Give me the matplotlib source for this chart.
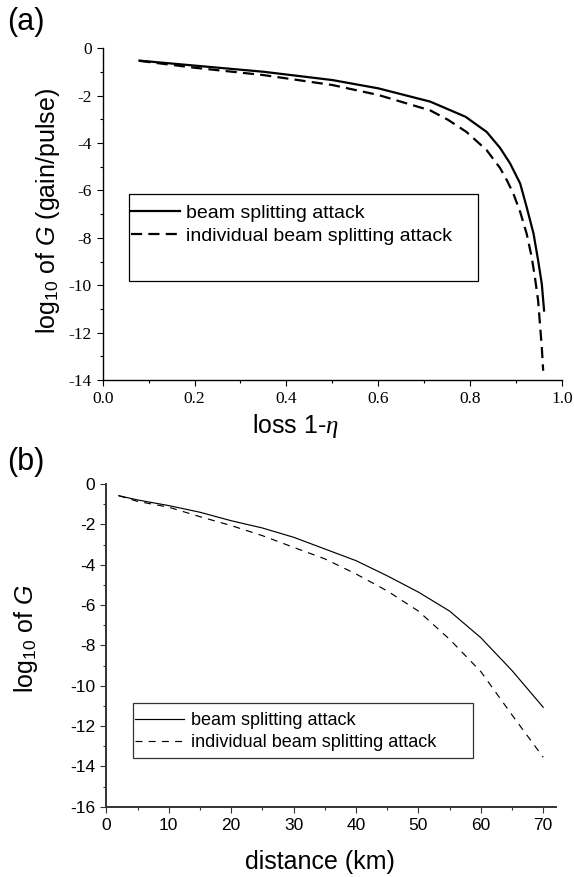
import matplotlib
matplotlib.use('Agg')
import matplotlib.pyplot as plt
from matplotlib.patches import Rectangle

plt.rcParams['font.family'] = ['Liberation Sans', 'DejaVu Sans']
plt.rcParams['mathtext.fontset'] = 'custom'
plt.rcParams['mathtext.rm'] = 'Liberation Sans'
plt.rcParams['mathtext.it'] = 'Liberation Serif:italic'
plt.rcParams['mathtext.sf'] = 'Liberation Sans:italic'
plt.rcParams['lines.scale_dashes'] = False
plt.rcParams['axes.unicode_minus'] = False

# panel (a): gain vs loss
loss_bs = [0.08, 0.2, 0.35, 0.5, 0.6, 0.713, 0.79, 0.836, 0.865, 0.887,
           0.909, 0.923, 0.938, 0.948, 0.956, 0.961]
logG_bs = [-0.52, -0.73, -0.99, -1.34, -1.69, -2.25, -2.89, -3.53, -4.20, -4.86,
           -5.71, -6.70, -7.82, -8.95, -9.94, -11.07]
loss_ibs = [0.08, 0.2, 0.35, 0.5, 0.6, 0.713, 0.752, 0.792, 0.836, 0.865, 0.880,
            0.894, 0.909, 0.923, 0.934, 0.941, 0.948, 0.952, 0.956, 0.959]
logG_ibs = [-0.53, -0.82, -1.13, -1.55, -1.97, -2.62, -3.02, -3.53, -4.30, -5.05, -5.57,
            -6.13, -6.91, -7.82, -8.81, -9.66, -10.65, -11.63, -12.62, -13.61]

# panel (b): gain vs distance
dist = [2, 5, 10, 15, 20, 25, 30, 35, 40, 45, 50, 55, 60, 65, 70]
dist_bs = [-0.58, -0.79, -1.07, -1.40, -1.82, -2.18, -2.64, -3.22, -3.80, -4.55, -5.36, -6.30, -7.62, -9.25, -11.07]
dist_ibs = [-0.58, -0.86, -1.15, -1.62, -2.06, -2.56, -3.14, -3.71, -4.46, -5.30, -6.30, -7.70, -9.30, -11.45, -13.55]

labels = ['beam splitting attack', 'individual beam splitting attack']

W, H = 574, 877
fig = plt.figure(figsize=(W / 100, H / 100), dpi=100)

def px_box(x0, y0, x1, y1):
    # pixel box (top-left origin) -> figure fraction rect
    return [x0 / W, 1 - y1 / H, (x1 - x0) / W, (y1 - y0) / H]

def style_axes(ax, spine_col, spine_w):
    for s in ['top', 'right']:
        ax.spines[s].set_visible(False)
    for s in ['left', 'bottom']:
        ax.spines[s].set_color(spine_col)
        ax.spines[s].set_linewidth(spine_w)
    ax.tick_params(which='major', direction='out', length=4.5, width=0.8, color=spine_col)
    ax.tick_params(which='minor', direction='out', length=2.5, width=0.8, color=spine_col)

# ---- (a)
ax1 = fig.add_axes(px_box(102.7, 48.3, 562, 380))
ax1.plot(loss_bs, logG_bs, color='k', lw=1.6, label=labels[0])
ax1.plot(loss_ibs, logG_ibs, color='k', lw=1.6, dashes=(8, 4.5), label=labels[1])
ax1.set_xlim(0, 1.0)
ax1.set_ylim(-14, 0)
ax1.set_xticks([0.0, 0.2, 0.4, 0.6, 0.8, 1.0])
ax1.set_xticks([0.1, 0.3, 0.5, 0.7, 0.9], minor=True)
ax1.set_yticks(range(-14, 1, 2))
ax1.set_yticks(range(-13, 0, 2), minor=True)
ax1.set_xticklabels(['0.0', '0.2', '0.4', '0.6', '0.8', '1.0'], family='Liberation Serif', fontsize=12.5)
ax1.set_yticklabels([str(v) for v in range(-14, 1, 2)], family='Liberation Serif', fontsize=12.5)
style_axes(ax1, 'k', 1.0)
ax1.set_xlabel(r'loss 1-$\eta$', fontsize=18)
ax1.xaxis.set_label_coords(0.42, -0.096)
ax1.set_ylabel(r'log$_{\mathrm{10}}$ of $\mathsf{G}$ (gain/pulse)', fontsize=18)
ax1.yaxis.set_label_coords(-0.089, 0.51)
fig.text(7 / W, 1 - 7 / H, '(a)', fontsize=22, ha='left', va='top')
fig.patches.append(Rectangle((129 / W, 1 - 281 / H), (478 - 129) / W, (281 - 194) / H,
                             transform=fig.transFigure, fill=False, ec='k', lw=0.9))
ax1.legend(loc='upper left', bbox_to_anchor=(131 / W, 1 - 204 / H), bbox_transform=fig.transFigure,
           frameon=False, fontsize=14, handlelength=2.5, handletextpad=0.35,
           labelspacing=0.3, borderpad=0, borderaxespad=0)

# ---- (b)
ax2 = fig.add_axes(px_box(106.3, 484, 555.7, 806.7))
ax2.plot(dist, dist_bs, color='k', lw=0.85, label=labels[0])
ax2.plot(dist, dist_ibs, color='k', lw=0.85, dashes=(5, 4.5), label=labels[1])
ax2.set_xlim(0, 72)
ax2.set_ylim(-16, 0)
ax2.set_xticks(range(0, 71, 10))
ax2.set_xticks(range(5, 71, 10), minor=True)
ax2.set_yticks(range(-16, 1, 2))
ax2.set_yticks(range(-15, 0, 2), minor=True)
ax2.tick_params(labelsize=12.5)
style_axes(ax2, '#333333', 1.4)
ax2.set_xlabel('distance (km)', fontsize=18)
ax2.xaxis.set_label_coords(0.476, -0.134)
ax2.set_ylabel(r'log$_{\mathrm{10}}$ of $\mathsf{G}$', fontsize=18)
ax2.yaxis.set_label_coords(-0.148, 0.52)
fig.text(7 / W, 1 - 447 / H, '(b)', fontsize=22, ha='left', va='top')
fig.patches.append(Rectangle((132.7 / W, 1 - 758 / H), (472.9 - 132.7) / W, (758 - 703) / H,
                             transform=fig.transFigure, fill=False, ec='#333333', lw=0.9))
ax2.legend(loc='upper left', bbox_to_anchor=(135 / W, 1 - 712 / H), bbox_transform=fig.transFigure,
           frameon=False, fontsize=13, handlelength=2.7, handletextpad=0.4,
           labelspacing=0.3, borderpad=0, borderaxespad=0)

fig.savefig('out.png', dpi=100)
